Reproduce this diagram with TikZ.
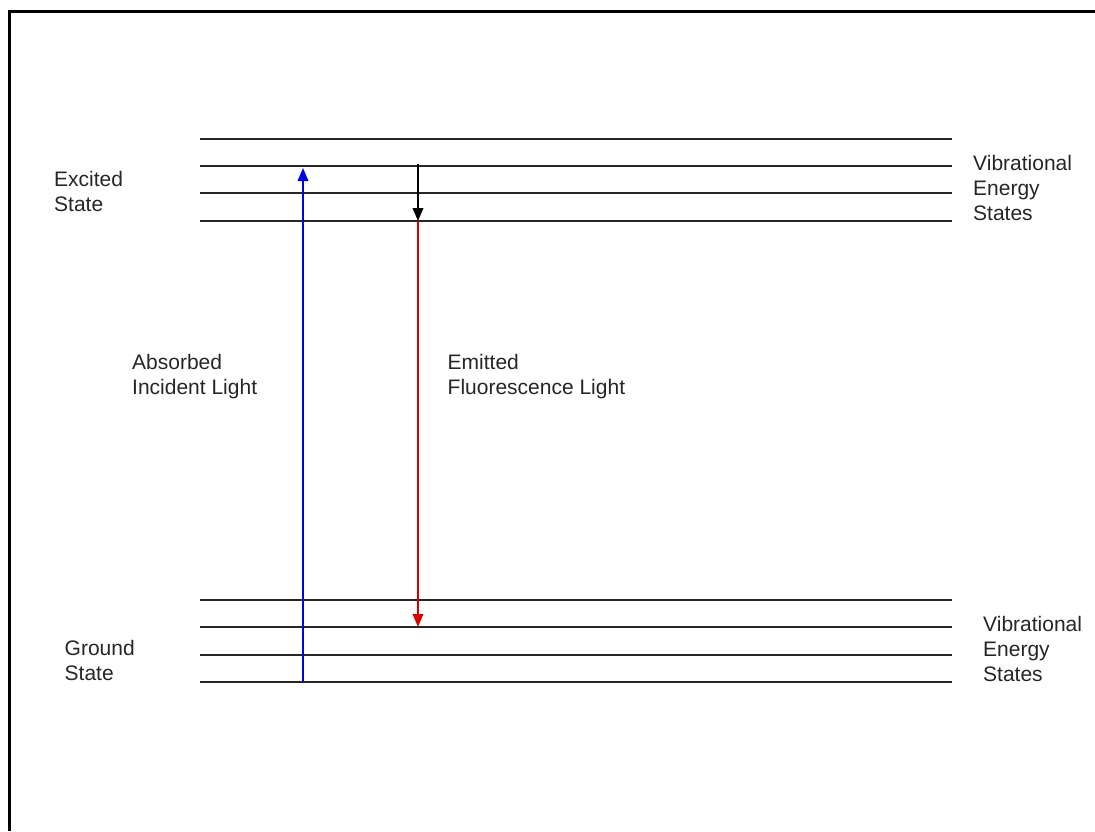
\documentclass[tikz,border=0pt]{standalone}
\usepackage{fontspec}
\setmainfont{Liberation Sans}
\usetikzlibrary{arrows.meta}
\begin{document}
\begin{tikzpicture}[x=1pt,y=-1pt,
  level/.style={line width=2.4pt,draw=black!85},
  lbl/.style={anchor=base west,inner sep=0pt,align=left,
    font=\fontsize{21pt}{25pt}\selectfont,text=black!85},
  transition/.style={line width=2pt,-{Triangle[length=13pt,width=10.5pt]}},
  frameline/.style={line width=3pt,draw=black}]
  \useasboundingbox (0,0) rectangle (1095,831);
  \fill[white] (0,0) rectangle (1095,831);
  % partial frame: top and left edges only
  \draw[frameline] (9.5,831) -- (9.5,11.5) -- (1095,11.5);

  % excited-state vibrational levels
  \foreach \n/\y in {e1/139,e2/166,e3/193,e4/221} {
    \coordinate (\n L) at (200,\y);
    \coordinate (\n R) at (952,\y);
    \draw[level] (\n L) -- (\n R);
  }
  % ground-state vibrational levels
  \foreach \n/\y in {g1/600,g2/627,g3/655,g4/682} {
    \coordinate (\n L) at (200,\y);
    \coordinate (\n R) at (952,\y);
    \draw[level] (\n L) -- (\n R);
  }

  % transitions
  \coordinate (absBot) at (303,682);
  \coordinate (absTop) at (303,168);
  \draw[transition,draw=blue!90!black,fill=blue!90!black] (absBot) -- (absTop);

  \coordinate (relTop) at (418,164);
  \coordinate (relBot) at (418,221);
  \draw[transition,draw=black,fill=black] (relTop) -- (relBot);

  \coordinate (emTop) at (418,221);
  \coordinate (emBot) at (418,627);
  \draw[transition,draw=red!85!black,fill=red!85!black] (emTop) -- (emBot);

  % labels (anchored at the baseline of the last line)
  \node[lbl] (excited) at (54,211) {Excited\\State};
  \node[lbl] (ground) at (64.5,680.5) {Ground\\State};
  \node[lbl] (absorbed) at (132,394) {Absorbed\\Incident Light};
  \node[lbl] (emitted) at (447.5,394) {Emitted\\Fluorescence Light};
  \node[lbl] (vibUp) at (973,220.5) {Vibrational\\Energy\\States};
  \node[lbl] (vibLow) at (983,681.5) {Vibrational\\Energy\\States};
\end{tikzpicture}
\end{document}
